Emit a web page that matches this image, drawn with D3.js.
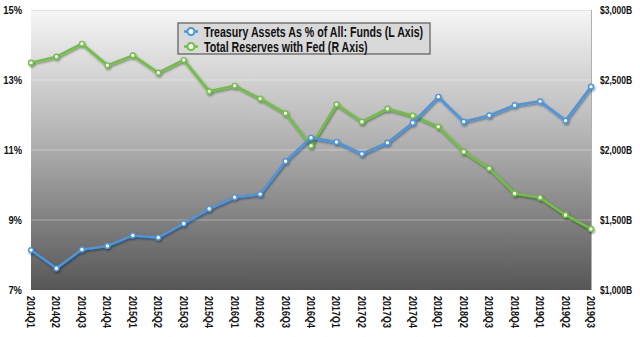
<!DOCTYPE html>
<html>
<head>
<meta charset="utf-8">
<script src="https://cdn.jsdelivr.net/npm/d3@7"></script>
<style>
  html, body { margin: 0; padding: 0; background: #ffffff; }
  svg { display: block; }
  .lbl { font-family: "Liberation Sans", Arial, sans-serif; font-weight: bold; fill: #111; }
</style>
</head>
<body>
<svg id="chart" width="640" height="337"></svg>
<script>
const categories = ["2014Q1","2014Q2","2014Q3","2014Q4","2015Q1","2015Q2","2015Q3","2015Q4",
  "2016Q1","2016Q2","2016Q3","2016Q4","2017Q1","2017Q2","2017Q3","2017Q4",
  "2018Q1","2018Q2","2018Q3","2018Q4","2019Q1","2019Q2","2019Q3"];
const treasuryPct = [8.14, 7.62, 8.16, 8.26, 8.56, 8.50, 8.90, 9.32, 9.65, 9.74, 10.68, 11.35,
  11.23, 10.89, 11.21, 11.78, 12.52, 11.81, 11.99, 12.28, 12.39, 11.84, 12.81];
const reserves = [2624, 2667, 2759, 2605, 2676, 2552, 2643, 2419, 2459, 2367, 2262, 2031,
  2326, 2202, 2295, 2245, 2167, 1988, 1869, 1690, 1660, 1536, 1436];
const leftTicks = [7, 9, 11, 13, 15];
const rightTicks = [1000, 1500, 2000, 2500, 3000];
const seriesNames = ["Treasury Assets As % of All: Funds (L Axis)", "Total Reserves with Fed (R Axis)"];

const svg = d3.select("#chart");
const L = 31, R = 591, T = 10, B = 290;

const x = d3.scalePoint().domain(categories).range([L, R]);
const yL = d3.scaleLinear().domain([7, 15]).range([B, T]);
const yR = d3.scaleLinear().domain([1000, 3000]).range([B, T]);

const defs = svg.append("defs");
const grad = defs.append("linearGradient").attr("id", "bg").attr("x1", 0).attr("y1", 0).attr("x2", 0).attr("y2", 1);
grad.append("stop").attr("offset", "0%").attr("stop-color", "#f6f6f6");
grad.append("stop").attr("offset", "45%").attr("stop-color", "#b4b4b4");
grad.append("stop").attr("offset", "100%").attr("stop-color", "#565656");
const sh = defs.append("filter").attr("id", "shadow").attr("x", "-10%").attr("y", "-10%").attr("width", "120%").attr("height", "130%");
sh.append("feDropShadow").attr("dx", 1).attr("dy", 1.5).attr("stdDeviation", 1).attr("flood-color", "#000").attr("flood-opacity", 0.45);

svg.append("rect").attr("x", L).attr("y", T).attr("width", R - L).attr("height", B - T).attr("fill", "url(#bg)");

// gridlines
svg.append("g").selectAll("line").data(leftTicks.filter(d => d > 7 && d < 15)).join("line")
  .attr("x1", L).attr("x2", R).attr("y1", d => yL(d)).attr("y2", d => yL(d))
  .attr("stroke", "#ffffff").attr("stroke-opacity", 0.35).attr("stroke-width", 1);
svg.append("line").attr("x1", L).attr("x2", R).attr("y1", T + 0.5).attr("y2", T + 0.5).attr("stroke", "#e4e4e4");
svg.append("line").attr("x1", R + 0.5).attr("x2", R + 0.5).attr("y1", T).attr("y2", B).attr("stroke", "#b0b0b0");

// left axis labels (horizontally condensed via transform)
svg.append("g").selectAll("text").data(leftTicks).join("text").attr("class", "lbl")
  .attr("transform", d => `translate(22,${yL(d)}) scale(0.82,1)`)
  .attr("dy", "0.35em").attr("text-anchor", "end")
  .attr("font-size", 11.5).text(d => d + "%");
// right axis labels
svg.append("g").selectAll("text").data(rightTicks).join("text").attr("class", "lbl")
  .attr("transform", d => `translate(600,${yR(d)}) scale(0.74,1)`)
  .attr("dy", "0.35em").attr("text-anchor", "start")
  .attr("font-size", 11.5).text(d => "$" + d3.format(",")(d) + "B");
// x labels (rotated; condensed along reading direction)
svg.append("g").selectAll("text").data(categories).join("text").attr("class", "lbl")
  .attr("transform", d => `translate(${x(d)},296) rotate(90) scale(0.78,1)`)
  .attr("dy", "0.35em").attr("text-anchor", "start").attr("font-size", 11.5).text(d => d);

const blue = "#4597e6", green = "#6cc23e";
function drawSeries(vals, yScale, color) {
  const g = svg.append("g").attr("filter", "url(#shadow)");
  const line = d3.line().x((d, i) => x(categories[i])).y(d => yScale(d));
  g.append("path").datum(vals).attr("d", line).attr("fill", "none").attr("stroke", color)
    .attr("stroke-width", 2.5).attr("stroke-linejoin", "round");
  g.selectAll("circle").data(vals).join("circle")
    .attr("cx", (d, i) => x(categories[i])).attr("cy", d => yScale(d)).attr("r", 2.4)
    .attr("fill", "#fff").attr("stroke", color).attr("stroke-width", 1.4);
}
drawSeries(reserves, yR, green);
drawSeries(treasuryPct, yL, blue);

// legend
const lg = svg.append("g");
lg.append("rect").attr("x", 178).attr("y", 23).attr("width", 252).attr("height", 31)
  .attr("fill", "#d9d9d9").attr("stroke", "#5a5a5a").attr("stroke-width", 1.2);
[blue, green].forEach((c, i) => {
  const yy = 31.5 + i * 15;
  lg.append("line").attr("x1", 184).attr("x2", 198).attr("y1", yy).attr("y2", yy).attr("stroke", c).attr("stroke-width", 2.5);
  lg.append("circle").attr("cx", 191).attr("cy", yy).attr("r", 3.5).attr("fill", "#fff").attr("stroke", c).attr("stroke-width", 2);
  lg.append("text").attr("class", "lbl").attr("transform", `translate(204,${yy}) scale(0.76,1)`)
    .attr("dy", "0.36em").attr("font-size", 14).text(seriesNames[i]);
});
</script>
</body>
</html>
